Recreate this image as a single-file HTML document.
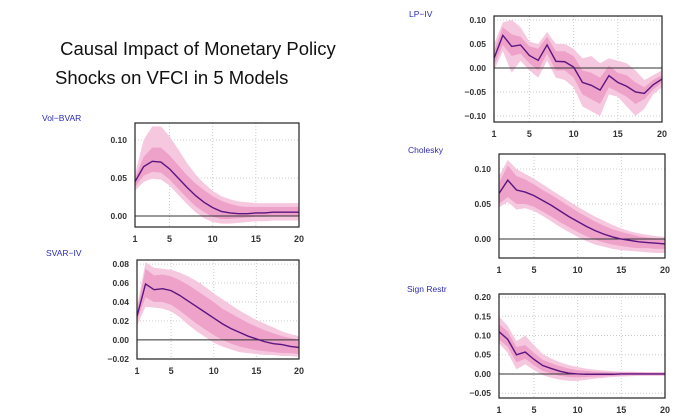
<!DOCTYPE html>
<html><head><meta charset="utf-8">
<style>
body{margin:0;background:#fff;width:699px;height:420px;overflow:hidden;font-family:"Liberation Sans",sans-serif;}
#title{position:absolute;left:55px;top:34px;font-size:18.5px;line-height:29px;color:#111;}
</style></head>
<body>
<div id="title">&nbsp;Causal Impact of Monetary Policy<br>Shocks on VFCI in 5 Models</div>
<svg id="svg" width="699" height="420" style="position:absolute;left:0;top:0"></svg>
<script>
const horizons=[1,2,3,4,5,6,7,8,9,10,11,12,13,14,15,16,17,18,19,20];
const xTicks=[1,5,10,15,20];

const volMid=[0.045,0.065,0.072,0.071,0.062,0.05,0.038,0.027,0.018,0.011,0.006,0.004,0.003,0.003,0.004,0.004,0.005,0.005,0.005,0.005];
const volInLo=[0.038,0.053,0.058,0.057,0.048,0.036,0.024,0.013,0.005,-0.001,-0.004,-0.004,-0.003,-0.002,-0.001,-0.001,0,0,0,0];
const volInHi=[0.05,0.078,0.09,0.09,0.08,0.067,0.054,0.043,0.034,0.026,0.02,0.016,0.013,0.012,0.012,0.012,0.012,0.012,0.012,0.012];
const volOutLo=[0.033,0.045,0.049,0.048,0.04,0.028,0.016,0.005,-0.003,-0.008,-0.01,-0.01,-0.009,-0.008,-0.007,-0.007,-0.006,-0.006,-0.006,-0.006];
const volOutHi=[0.055,0.1,0.118,0.118,0.105,0.088,0.07,0.055,0.043,0.033,0.026,0.022,0.019,0.018,0.017,0.017,0.017,0.017,0.017,0.017];
const volTicks=[0,0.05,0.1];

const svarMid=[0.025,0.059,0.053,0.054,0.052,0.047,0.041,0.035,0.029,0.023,0.017,0.012,0.008,0.004,0.001,-0.002,-0.004,-0.005,-0.007,-0.008];
const svarInLo=[0.02,0.045,0.04,0.04,0.037,0.031,0.024,0.017,0.011,0.005,0,-0.004,-0.007,-0.009,-0.011,-0.012,-0.013,-0.014,-0.014,-0.015];
const svarInHi=[0.03,0.075,0.068,0.069,0.067,0.063,0.058,0.052,0.046,0.04,0.033,0.028,0.023,0.018,0.014,0.01,0.007,0.004,0.002,0];
const svarOutLo=[0.015,0.035,0.034,0.033,0.03,0.024,0.016,0.009,0.003,-0.003,-0.007,-0.01,-0.013,-0.014,-0.015,-0.016,-0.016,-0.017,-0.017,-0.018];
const svarOutHi=[0.035,0.082,0.076,0.075,0.074,0.071,0.067,0.062,0.056,0.049,0.043,0.037,0.031,0.026,0.021,0.017,0.013,0.009,0.006,0.004];
const svarTicks=[-0.02,0,0.02,0.04,0.06,0.08];

const lpMid=[0.02,0.068,0.045,0.048,0.026,0.016,0.048,0.014,0.013,0.002,-0.03,-0.036,-0.046,-0.016,-0.03,-0.038,-0.05,-0.053,-0.035,-0.023];
const lpInLo=[0.005,0.048,0.025,0.03,0.01,-0.005,0.03,-0.005,-0.005,-0.02,-0.055,-0.065,-0.075,-0.04,-0.05,-0.06,-0.075,-0.065,-0.045,-0.03];
const lpInHi=[0.035,0.085,0.07,0.065,0.045,0.04,0.065,0.035,0.035,0.025,-0.005,-0.01,-0.02,0.005,-0.01,-0.015,-0.03,-0.04,-0.025,-0.015];
const lpOutLo=[-0.005,0.035,-0.01,0.015,-0.005,-0.02,0.015,-0.02,-0.025,-0.04,-0.08,-0.09,-0.1,-0.055,-0.06,-0.08,-0.1,-0.085,-0.055,-0.04];
const lpOutHi=[0.05,0.095,0.1,0.085,0.055,0.05,0.075,0.05,0.05,0.04,0.02,0.025,0.01,0.02,0.015,0.01,-0.005,-0.025,-0.015,-0.005];
const lpTicks=[-0.1,-0.05,0,0.05,0.1];

const choMid=[0.065,0.084,0.07,0.067,0.062,0.055,0.048,0.04,0.032,0.025,0.018,0.012,0.007,0.003,0,-0.002,-0.004,-0.005,-0.006,-0.007];
const choInLo=[0.05,0.06,0.05,0.05,0.046,0.039,0.032,0.024,0.017,0.01,0.004,-0.001,-0.005,-0.008,-0.01,-0.012,-0.013,-0.013,-0.014,-0.014];
const choInHi=[0.08,0.105,0.09,0.085,0.078,0.07,0.063,0.055,0.047,0.039,0.032,0.025,0.019,0.014,0.01,0.007,0.004,0.002,0.001,0];
const choOutLo=[0.045,0.053,0.042,0.044,0.04,0.033,0.025,0.017,0.01,0.003,-0.003,-0.008,-0.011,-0.014,-0.016,-0.017,-0.018,-0.019,-0.02,-0.02];
const choOutHi=[0.09,0.113,0.1,0.093,0.086,0.078,0.07,0.062,0.054,0.046,0.039,0.032,0.026,0.02,0.015,0.011,0.008,0.006,0.004,0.003];
const choTicks=[0,0.05,0.1];

const sgnMid=[0.11,0.09,0.05,0.057,0.038,0.022,0.014,0.007,0.002,0,-0.001,-0.001,-0.001,-0.001,0,0,0,0,0,0];
const sgnInLo=[0.09,0.07,0.03,0.04,0.022,0.008,0.001,-0.005,-0.008,-0.009,-0.008,-0.007,-0.006,-0.005,-0.004,-0.003,-0.003,-0.003,-0.003,-0.003];
const sgnInHi=[0.13,0.11,0.07,0.075,0.055,0.037,0.028,0.02,0.014,0.01,0.008,0.006,0.005,0.004,0.004,0.004,0.004,0.003,0.003,0.003];
const sgnOutLo=[0.08,0.055,0.012,0.025,0.01,-0.003,-0.01,-0.015,-0.018,-0.018,-0.015,-0.012,-0.01,-0.008,-0.007,-0.006,-0.005,-0.005,-0.005,-0.005];
const sgnOutHi=[0.15,0.125,0.085,0.1,0.075,0.052,0.04,0.03,0.023,0.018,0.014,0.011,0.009,0.007,0.006,0.006,0.005,0.005,0.005,0.005];
const sgnTicks=[-0.05,0,0.05,0.1,0.15,0.2];

const NS="http://www.w3.org/2000/svg";
const svg=document.getElementById('svg');
function mk(tag,attrs,parent){const e=document.createElementNS(NS,tag);for(const k in attrs)e.setAttribute(k,attrs[k]);(parent||svg).appendChild(e);return e;}

function panel(p){
  const g=mk('g',{});
  
  
  const xs=v=>p.x0+(v-1)/19*(p.x1-p.x0);
  const ys=v=>p.y0-(v-p.ymin)/(p.ymax-p.ymin)*(p.y0-p.y1);
  const clip=mk('clipPath',{id:'c'+p.id},g);
  mk('rect',{x:p.x0,y:p.y1,width:p.x1-p.x0,height:p.y0-p.y1},clip);
  xTicks.forEach(t=>{if(t>1&&t<20){const l=mk('line',{x1:xs(t),x2:xs(t),y1:p.y1,y2:p.y0,stroke:'#ccc','stroke-dasharray':'1,2','stroke-width':1},g);
    
    }});
  p.ticks.forEach(t=>{const l=mk('line',{x1:p.x0,x2:p.x1,y1:ys(t),y2:ys(t),stroke:'#ccc','stroke-dasharray':'1,2','stroke-width':1},g);
    
    });
  const area=(lo,hi,col,name)=>{let d='M';horizons.forEach((h,i)=>{d+=xs(h)+','+ys(hi[i])+' L';});
    for(let i=horizons.length-1;i>=0;i--){d+=xs(horizons[i])+','+ys(lo[i])+(i>0?' L':' Z');}
    const a=mk('path',{d:d,fill:col,'clip-path':'url(#c'+p.id+')'},g);
    
    };
  area(p.oLo,p.oHi,'#f6c8df','outer-band');
  area(p.iLo,p.iHi,'#eea2c9','inner-band');
  const z=mk('line',{x1:p.x0,x2:p.x1,y1:ys(0),y2:ys(0),stroke:'#333','stroke-width':1},g);
  
  
  const pts=horizons.map((h,i)=>xs(h)+','+ys(p.mid[i])).join(' ');
  const ln=mk('polyline',{points:pts,fill:'none',stroke:'#5a1580','stroke-width':1.4,'clip-path':'url(#c'+p.id+')'},g);
  
  
  const fr=mk('rect',{x:p.x0,y:p.y1,width:p.x1-p.x0,height:p.y0-p.y1,fill:'none',stroke:'#222','stroke-width':1.2},g);
  
  
  xTicks.forEach(t=>{const tx=mk('text',{x:xs(t),y:p.y0+15,'text-anchor':'middle','font-size':'9','font-weight':'bold',fill:'#333'},g);tx.textContent=t;
    
    });
  p.ticks.forEach(t=>{const tx=mk('text',{x:p.x0-8,y:ys(t)+3,'text-anchor':'end','font-size':'8.5','font-weight':'bold',fill:'#333'},g);
    tx.textContent=(t<0?'\u22120':'')+Math.abs(t).toFixed(2).replace(/^0/, t<0?'':'0');
    
    });
  const lb=mk('text',{x:p.lx,y:p.ly,'font-size':'8.5',fill:'#2b2bb0'},g);lb.textContent=p.label;
  
  
}
panel({id:'vol-bvar',label:'Vol\u2212BVAR',lx:42,ly:121,x0:135,x1:299,y1:123,y0:227,ymin:-0.0145,ymax:0.1224,ticks:volTicks,mid:volMid,iLo:volInLo,iHi:volInHi,oLo:volOutLo,oHi:volOutHi});
panel({id:'svar-iv',label:'SVAR\u2212IV',lx:46,ly:256,x0:137,x1:299,y1:260,y0:359,ymin:-0.0202,ymax:0.0843,ticks:svarTicks,mid:svarMid,iLo:svarInLo,iHi:svarInHi,oLo:svarOutLo,oHi:svarOutHi});
panel({id:'lp-iv',label:'LP\u2212IV',lx:409,ly:17,x0:494,x1:662,y1:16,y0:122,ymin:-0.1125,ymax:0.1083,ticks:lpTicks,mid:lpMid,iLo:lpInLo,iHi:lpInHi,oLo:lpOutLo,oHi:lpOutHi});
panel({id:'cholesky',label:'Cholesky',lx:408,ly:153,x0:499,x1:665,y1:154,y0:258,ymin:-0.0271,ymax:0.1214,ticks:choTicks,mid:choMid,iLo:choInLo,iHi:choInHi,oLo:choOutLo,oHi:choOutHi});
panel({id:'sign-restr',label:'Sign Restr',lx:407,ly:292,x0:499,x1:665,y1:294,y0:398,ymin:-0.0625,ymax:0.208,ticks:sgnTicks,mid:sgnMid,iLo:sgnInLo,iHi:sgnInHi,oLo:sgnOutLo,oHi:sgnOutHi});
</script>
</body></html>
